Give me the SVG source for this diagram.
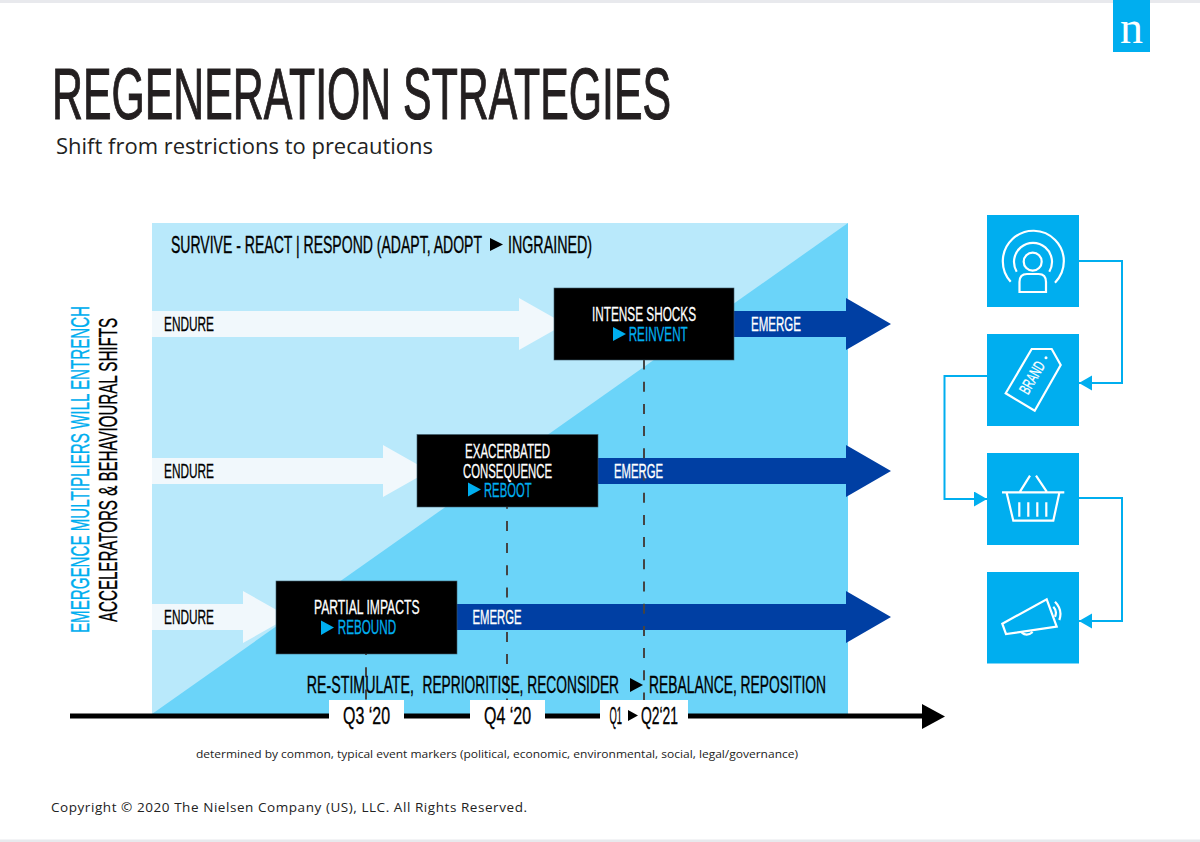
<svg xmlns="http://www.w3.org/2000/svg" width="1200" height="842" viewBox="0 0 1200 842">
<style>
text{font-family:"Liberation Sans Narrow","Liberation Sans",Arial,sans-serif}
.b{font-size:20px;fill:#000;stroke:#000;stroke-width:.3}
.w{font-size:20px;fill:#fff;stroke:#fff;stroke-width:.3}
.c{font-size:20px;fill:#00aeef;stroke:#00aeef;stroke-width:.3}
.l{font-size:23px;fill:#000;stroke:#000;stroke-width:.35}
.o{font-family:"Open Sans","Noto Sans",sans-serif;fill:#222}
.white{fill:#f1f8fc}
.navy{fill:#003fa3}
.box{fill:#000;stroke:#3c5c6c;stroke-width:.6}
.tile{fill:#00aeef}
.ic{fill:none;stroke:#fff;stroke-width:2.2}
.dash{fill:none;stroke:#444;stroke-width:2;stroke-dasharray:10 12.2}
.conn{fill:none;stroke:#00aeef;stroke-width:2}
.tri{fill:#00aeef}
</style>
<defs>
<marker id="ah" markerUnits="userSpaceOnUse" markerWidth="14" markerHeight="16" refX="13" refY="7.5" orient="auto"><path d="M0 0L13 7.5L0 15Z" fill="#00aeef"/></marker>
</defs>
<rect width="1200" height="842" fill="#fff"/>
<rect x="0" y="0" width="1200" height="3" fill="#e8e9ed"/>
<rect x="0" y="839.5" width="1200" height="2.5" fill="#e8e9ed"/>
<g id="logo"><rect x="1113" y="0" width="37" height="52" fill="#00aeef"/><text x="1131.5" y="43" text-anchor="middle" style="font-family:'Liberation Serif',serif" font-size="46" fill="#fff">n</text></g>
<g id="title">
<text x="52" y="119" font-size="72" fill="#231f20" stroke="#231f20" stroke-width="1.1" textLength="619" lengthAdjust="spacingAndGlyphs">REGENERATION STRATEGIES</text>
<text class="o" x="56" y="154" font-size="22" textLength="377" lengthAdjust="spacingAndGlyphs">Shift from restrictions to precautions</text>
</g>
<g id="panel">
<rect x="152" y="223" width="696" height="491" fill="#b9e9fb"/>
<path d="M152 714L848 223V714Z" fill="#6bd4f9"/>
<text class="l" transform="translate(171 253) scale(.75 1)" textLength="414.7" lengthAdjust="spacingAndGlyphs">SURVIVE - REACT | RESPOND (ADAPT, ADOPT</text>
<path d="M490 238L503 244.5L490 251Z" fill="#000"/>
<text class="l" transform="translate(508 253) scale(.75 1)" textLength="112" lengthAdjust="spacingAndGlyphs">INGRAINED)</text>
</g>
<g id="side-labels">
<text transform="translate(89 633) rotate(-90)" font-size="26" fill="#00aeef" stroke="#00aeef" stroke-width=".35" textLength="327" lengthAdjust="spacingAndGlyphs">EMERGENCE MULTIPLIERS WILL ENTRENCH</text>
<text transform="translate(117.3 622) rotate(-90)" font-size="26" fill="#000" stroke="#000" stroke-width=".35" textLength="304" lengthAdjust="spacingAndGlyphs">ACCELERATORS &amp; BEHAVIOURAL SHIFTS</text>
</g>
<g id="connectors">
<path class="white" d="M152 311H519V298L565 324L519 350V337H152Z"/>
<path class="white" d="M152 458H383V445L429 471L383 497V484H152Z"/>
<path class="white" d="M152 604H243V591L289 617L243 643V630H152Z"/>
<path class="navy" d="M734 311H846V298L891 324L846 350V337H734Z"/>
<path class="navy" d="M598 458H846V445L891 471L846 497V484H598Z"/>
<path class="navy" d="M457 604H846V591L891 617L846 643V630H457Z"/>
<path class="dash" d="M366 645V700"/>
<path class="dash" d="M507 498.7V700"/>
<path class="dash" d="M644 359.5V700"/>
<path d="M70 716H924" stroke="#000" stroke-width="5" fill="none"/>
<path d="M922 704L945 716.5L922 729Z" fill="#000"/>
<path class="conn" d="M1079 261H1122V383H1079" marker-end="url(#ah)"/>
<path class="conn" d="M987 376H944.5V499H987" marker-end="url(#ah)"/>
<path class="conn" d="M1079 498H1122V621H1079" marker-end="url(#ah)"/>
</g>
<g id="row1-labels">
<text class="b" x="164" y="331" textLength="50" lengthAdjust="spacingAndGlyphs">ENDURE</text>
<text class="w" x="751" y="331" textLength="50" lengthAdjust="spacingAndGlyphs">EMERGE</text>
</g>
<g id="row2-labels">
<text class="b" x="164" y="477.5" textLength="50" lengthAdjust="spacingAndGlyphs">ENDURE</text>
<text class="w" x="614" y="477.5" textLength="49" lengthAdjust="spacingAndGlyphs">EMERGE</text>
</g>
<g id="row3-labels">
<text class="b" x="164" y="624" textLength="50" lengthAdjust="spacingAndGlyphs">ENDURE</text>
<text class="w" x="472.5" y="624" textLength="49" lengthAdjust="spacingAndGlyphs">EMERGE</text>
</g>
<g id="node-intense-shocks">
<rect class="box" x="554" y="288" width="180" height="72"/>
<text class="w" x="592" y="321" textLength="104" lengthAdjust="spacingAndGlyphs">INTENSE SHOCKS</text>
<path class="tri" d="M613 327L626 334L613 341Z"/>
<text class="c" x="628.7" y="341" textLength="59" lengthAdjust="spacingAndGlyphs">REINVENT</text>
</g>
<g id="node-exacerbated">
<rect class="box" x="417" y="434.5" width="181" height="72.5"/>
<text class="w" x="465" y="457.5" textLength="85" lengthAdjust="spacingAndGlyphs">EXACERBATED</text>
<text class="w" x="463" y="477.5" textLength="89" lengthAdjust="spacingAndGlyphs">CONSEQUENCE</text>
<path class="tri" d="M468 482.5L481 489.5L468 496.5Z"/>
<text class="c" x="484" y="497" textLength="47.5" lengthAdjust="spacingAndGlyphs">REBOOT</text>
</g>
<g id="node-partial-impacts">
<rect class="box" x="276" y="581" width="181" height="73"/>
<text class="w" x="314" y="614" textLength="105.5" lengthAdjust="spacingAndGlyphs">PARTIAL IMPACTS</text>
<path class="tri" d="M321 620.5L334 627.5L321 635Z"/>
<text class="c" x="337.7" y="634" textLength="58.5" lengthAdjust="spacingAndGlyphs">REBOUND</text>
</g>
<g id="bottom-label">
<text class="l" transform="translate(306.7 693.3) scale(.75 1)" textLength="143" lengthAdjust="spacingAndGlyphs">RE-STIMULATE,</text>
<text class="l" transform="translate(422.5 693.3) scale(.75 1)" textLength="262" lengthAdjust="spacingAndGlyphs">REPRIORITISE, RECONSIDER</text>
<path d="M630 678L643 685L630 692Z" fill="#000"/>
<text class="l" transform="translate(649 693.3) scale(.75 1)" textLength="236" lengthAdjust="spacingAndGlyphs">REBALANCE, REPOSITION</text>
</g>
<g id="q3">
<rect x="329" y="700" width="75" height="35" fill="#fff"/>
<text class="l" x="343" y="724" textLength="47" lengthAdjust="spacingAndGlyphs">Q3 ‘20</text>
</g>
<g id="q4">
<rect x="470" y="700" width="75" height="35" fill="#fff"/>
<text class="l" x="484" y="724" textLength="47" lengthAdjust="spacingAndGlyphs">Q4 ‘20</text>
</g>
<g id="q1q2">
<rect x="600" y="700" width="88" height="35" fill="#fff"/>
<text class="l" transform="translate(609.5 724) scale(.5 1)" textLength="25" lengthAdjust="spacingAndGlyphs">Q1</text>
<path d="M628 710L638 715.5L628 721Z" fill="#000"/>
<text class="l" transform="translate(641 724) scale(.75 1)" textLength="49.3" lengthAdjust="spacingAndGlyphs">Q2‘21</text>
</g>
<g id="icon-podcast">
<rect class="tile" x="987" y="215" width="92" height="92"/>
<circle class="ic" cx="1032.7" cy="261.7" r="9"/>
<path class="ic" d="M1019.5 292V282Q1019.5 274 1027 274H1038.5Q1046 274 1046 282V292Z"/>
<path class="ic" d="M1016.7 271.7A19 19 0 1 1 1049.3 271.7"/>
<path class="ic" d="M1010.7 281.7A30.5 30.5 0 1 1 1055 282.7"/>
</g>
<g id="icon-brand">
<rect class="tile" x="987" y="334" width="92" height="92"/>
<path class="ic" d="M1031.7 349H1051.7L1060.7 365L1034.7 410.7L1005.7 393.3Z"/>
<circle cx="1046" cy="357.7" r="1.5" fill="#fff"/>
<text transform="translate(1028 395.5) rotate(-60)" font-size="16" fill="#fff" stroke="#fff" stroke-width=".3" textLength="35" lengthAdjust="spacingAndGlyphs">BRAND</text>
</g>
<g id="icon-basket">
<rect class="tile" x="987" y="453" width="92" height="92"/>
<path class="ic" d="M1002 492.3H1064.3M1006.7 493L1013.3 520.7H1053.3L1059.3 493M1019.3 502.3V516.7M1028.3 502.3V516.7M1037.3 502.3V516.7M1046.3 502.3V516.7M1020 491.7L1030 475.7M1036 475.7L1046.7 491.7"/>
</g>
<g id="icon-megaphone">
<rect class="tile" x="987" y="572" width="92" height="91.5"/>
<path class="ic" d="M1002.3 623.7L1046.7 599.3L1056.7 626.7L1006 634ZM1021.7 632.7Q1027 637 1032.7 632M1053.3 606.7Q1057.5 611 1055 616.7M1055 601.7Q1063 610 1059.3 620"/>
</g>
<g id="footnotes">
<text class="o" x="196" y="758" font-size="11.5" textLength="602" lengthAdjust="spacingAndGlyphs">determined by common, typical event markers (political, economic, environmental, social, legal/governance)</text>
<text class="o" x="51" y="812" font-size="13.5" textLength="476" lengthAdjust="spacing">Copyright © 2020 The Nielsen Company (US), LLC. All Rights Reserved.</text>
</g>
</svg>
